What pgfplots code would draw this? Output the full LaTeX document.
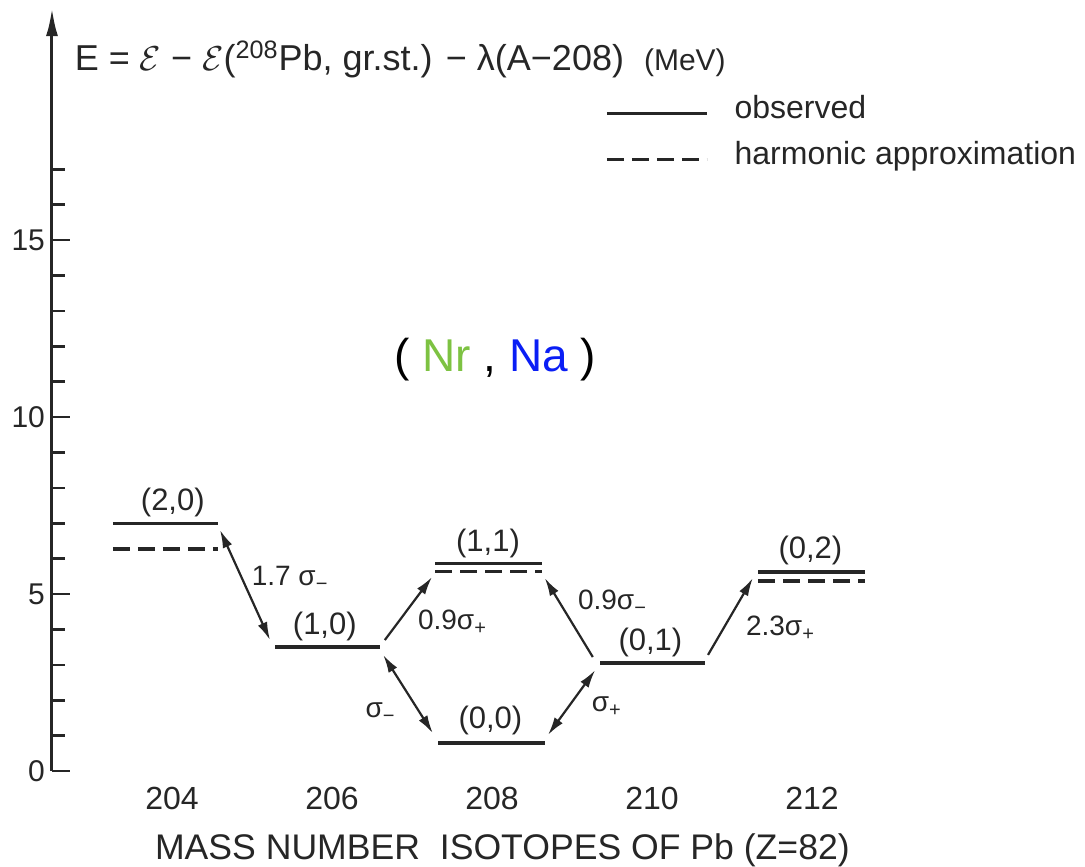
\documentclass[border=0pt]{standalone}
\usepackage{fontspec}
\setmainfont{Liberation Sans}
\usepackage{pgfplots}
\pgfplotsset{compat=1.18}
\usetikzlibrary{arrows.meta}

\definecolor{ink}{HTML}{262626}
\definecolor{nrgreen}{HTML}{7DC242}
\definecolor{nablue}{HTML}{0A1EF5}

\newcommand{\fs}[1]{\fontsize{#1}{1.2\dimexpr#1\relax}\selectfont}
\newcommand{\sg}[1]{σ\raisebox{-0.35ex}{\fs{10pt}#1}}

\begin{document}
\begin{tikzpicture}
\begin{axis}[
  x=40pt, y=17.7pt,
  xmin=202.5, xmax=215.41, ymin=0, ymax=21.55,
  axis y line=left, axis x line=bottom,
  clip=false,
  x axis line style={draw=none},
  y axis line style={line width=1.5pt, ink, -{Latex[length=14pt,width=6pt]}},
  tick align=inside,
  ytick={0,5,10,15},
  minor ytick={1,2,3,4,6,7,8,9,11,12,13,14,16,17},
  major tick length=9pt, minor tick length=6.5pt,
  ytick style={ink, line width=1.3pt},
  minor tick style={ink, line width=1.1pt},
  xtick={204,206,208,210,212},
  xtick style={draw=none},
  xticklabel style={yshift=-4.5pt, ink, font=\fs{16pt}},
  yticklabel style={ink, font=\fs{15pt}},
  /pgf/number format/assume math mode=true,
  /pgf/number format/1000 sep={},
  unbounded coords=jump,
  legend image code/.code={\draw[#1] (0pt,0pt) -- (50pt,0pt);},
  legend style={draw=none, fill=none, inner sep=0pt,
    at={(axis cs:209.41,17.93)}, anchor=west,
    font=\fs{16pt}, text=ink, row sep=13.5pt,
    nodes={inner sep=0pt, text height=0.75em, text depth=0.2em},
    /tikz/every odd column/.append style={column sep=13pt}},
  legend cell align=left,
]

% observed levels
\addplot[ink, line width=1.7pt] coordinates {
  (203.26,7.00) (204.575,7.00) (204.6,nan)
  (205.29,3.50) (206.60,3.50) (206.7,nan)
  (207.29,5.86) (208.625,5.86) (208.7,nan)
  (207.33,0.79) (208.66,0.79) (208.7,nan)
  (209.35,3.05) (210.66,3.05) (210.7,nan)
  (211.33,5.62) (212.66,5.62)
};
\addlegendentry{observed}

% harmonic approximation
\addplot[ink, line width=1.7pt, dash pattern=on 8.5pt off 4pt] coordinates {
  (203.26,6.27) (204.575,6.27) (204.6,nan)
  (207.29,5.64) (208.625,5.64) (208.7,nan)
  (211.33,5.37) (212.66,5.37)
};
\addlegendentry{harmonic approximation}

% transitions
\tikzset{tr/.style={ink, line width=1.1pt}}
\addplot[tr, {Latex[length=9pt,width=5pt]}-{Latex[length=9pt,width=5pt]}, forget plot]
  coordinates {(204.60,6.81) (205.225,3.70)};
\addplot[tr, -{Latex[length=9pt,width=5pt]}, forget plot]
  coordinates {(206.66,3.70) (207.25,5.48)};
\addplot[tr, {Latex[length=9pt,width=5pt]}-{Latex[length=9pt,width=5pt]}, forget plot]
  coordinates {(206.64,3.28) (207.26,1.07)};
\addplot[tr, {Latex[length=9pt,width=5pt]}-{Latex[length=9pt,width=5pt]}, forget plot]
  coordinates {(208.70,1.02) (209.29,2.85)};
\addplot[tr, -{Latex[length=9pt,width=5pt]}, forget plot]
  coordinates {(209.26,3.22) (208.66,5.45)};
\addplot[tr, -{Latex[length=9pt,width=5pt]}, forget plot]
  coordinates {(210.70,3.28) (211.26,5.45)};

% level labels
\begin{scope}[every node/.style={ink, font=\fs{15.5pt}}]
\node at (axis cs:204.01,7.60) {(2,0)};
\node at (axis cs:205.91,4.07) {(1,0)};
\node at (axis cs:207.95,6.44) {(1,1)};
\node at (axis cs:207.98,1.44) {(0,0)};
\node at (axis cs:209.98,3.64) {(0,1)};
\node at (axis cs:211.98,6.24) {(0,2)};
\end{scope}

% transition labels
\begin{scope}[every node/.style={ink, font=\fs{14pt}}]
\node at (axis cs:205.47,5.45) {1.7 \sg{−}};
\node at (axis cs:207.50,4.21) {0.9\sg{+}};
\node at (axis cs:206.60,1.64) {\sg{−}};
\node at (axis cs:209.43,1.81) {\sg{+}};
\node at (axis cs:209.50,4.77) {0.9\sg{−}};
\node at (axis cs:211.60,4.04) {2.3\sg{+}};
\end{scope}

% energy definition
\node[anchor=west, inner sep=0pt, ink, font=\fs{18pt}] at (axis cs:202.78,20.1)
  {E = $\mathcal{E}$ − $\mathcal{E}$(\textsuperscript{208}Pb, gr.st.) − λ(A−208) \ {\fs{15pt}(MeV)}};

% axis title
\node[ink, font=\fs{17.8pt}] at (axis cs:208.13,-2.23)
  {MASS NUMBER \ ISOTOPES OF Pb (Z=82)};

% quantum-number key
\node[font=\fs{23pt}] at (axis cs:208.04,11.61)
  {( \textcolor{nrgreen}{Nr} , \textcolor{nablue}{Na} )};

\coordinate (bbSW) at (axis cs:201.85,-2.684);
\coordinate (bbNE) at (axis cs:215.4125,21.78);
\end{axis}
\pgfresetboundingbox
\path[use as bounding box] (bbSW) rectangle (bbNE);
\end{tikzpicture}
\end{document}
